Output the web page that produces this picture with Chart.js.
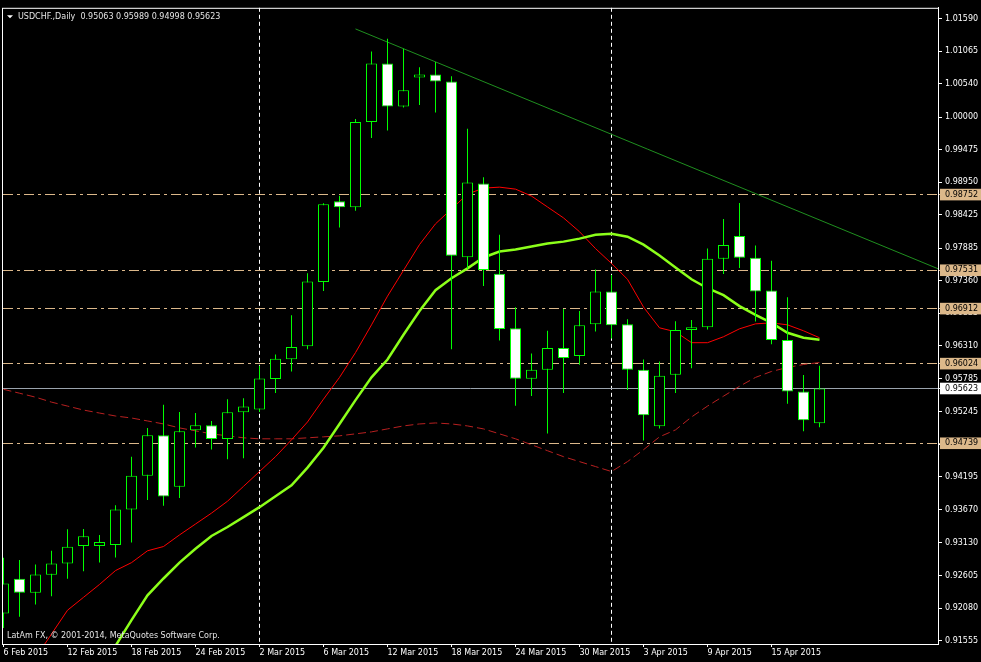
<!DOCTYPE html>
<html>
<head>
<meta charset="utf-8">
<title>USDCHF Daily</title>
<script src="https://cdn.jsdelivr.net/npm/chart.js@4.4.1/dist/chart.umd.min.js"></script>
<style>
html, body { margin: 0; padding: 0; background: #000; }
#wrap { width: 981px; height: 662px; position: relative; }
</style>
</head>
<body>
<div id="wrap"><canvas id="usdchf"></canvas></div>
<script>
// daily bars, 6 Feb 2015 .. 20 Apr 2015
const dates = ['6 Feb 2015', '9 Feb 2015', '10 Feb 2015', '11 Feb 2015', '12 Feb 2015', '13 Feb 2015',
  '16 Feb 2015', '17 Feb 2015', '18 Feb 2015', '19 Feb 2015', '20 Feb 2015', '23 Feb 2015', '24 Feb 2015',
  '25 Feb 2015', '26 Feb 2015', '27 Feb 2015', '2 Mar 2015', '3 Mar 2015', '4 Mar 2015', '5 Mar 2015',
  '6 Mar 2015', '9 Mar 2015', '10 Mar 2015', '11 Mar 2015', '12 Mar 2015', '13 Mar 2015', '16 Mar 2015',
  '17 Mar 2015', '18 Mar 2015', '19 Mar 2015', '20 Mar 2015', '23 Mar 2015', '24 Mar 2015', '25 Mar 2015',
  '26 Mar 2015', '27 Mar 2015', '30 Mar 2015', '31 Mar 2015', '1 Apr 2015', '2 Apr 2015', '3 Apr 2015',
  '6 Apr 2015', '7 Apr 2015', '8 Apr 2015', '9 Apr 2015', '10 Apr 2015', '13 Apr 2015', '14 Apr 2015',
  '15 Apr 2015', '16 Apr 2015', '17 Apr 2015', '20 Apr 2015'];

const opens = [0.91992, 0.92552, 0.92328, 0.92616, 0.92801, 0.93080, 0.93080, 0.93096, 0.93671, 0.94215,
  0.94870, 0.94039, 0.94950, 0.95030, 0.94806, 0.95238, 0.95286, 0.95775, 0.96095, 0.96303,
  0.97342, 0.98643, 0.98547, 0.99922, 1.00866, 1.00172, 1.00642, 1.00690, 1.00578, 0.97742,
  0.98931, 0.97476, 0.96597, 0.95782, 0.95925, 0.96277, 0.96149, 0.96661, 0.97189, 0.96661,
  0.95925, 0.95014, 0.95846, 0.96565, 0.96613, 0.97716, 0.98084, 0.97732, 0.97204, 0.96405,
  0.95574, 0.95063];
const highs = [0.92893, 0.92856, 0.92781, 0.93004, 0.93351, 0.93356, 0.93260, 0.93740, 0.94523, 0.94987,
  0.95359, 0.95243, 0.95227, 0.95099, 0.95451, 0.95467, 0.95989, 0.96170, 0.96805, 0.97481,
  0.98611, 0.98733, 0.99970, 1.01062, 1.01265, 1.01106, 1.00807, 1.00891, 1.00663, 0.99815,
  0.99032, 0.98105, 0.96933, 0.96186, 0.96554, 0.96906, 0.96874, 0.97545, 0.97454, 0.96741,
  0.96090, 0.96058, 0.96709, 0.96730, 0.97881, 0.98360, 0.98616, 0.97929, 0.97684, 0.97097,
  0.95839, 0.95989];
const lows = [0.91757, 0.91938, 0.92136, 0.92269, 0.92552, 0.92673, 0.92817, 0.92897, 0.93137, 0.93825,
  0.93729, 0.93857, 0.94672, 0.94640, 0.94480, 0.94496, 0.95243, 0.95551, 0.95898, 0.96255,
  0.97198, 0.98221, 0.98493, 0.99667, 0.99788, 1.00156, 1.00199, 1.00076, 0.96255, 0.97561,
  0.97278, 0.96399, 0.95343, 0.95503, 0.94896, 0.95551, 0.96005, 0.96543, 0.96431, 0.95599,
  0.94784, 0.94976, 0.95551, 0.95951, 0.96575, 0.97470, 0.97566, 0.96702, 0.96335, 0.95375,
  0.94934, 0.94998];
const closes = [0.92477, 0.92328, 0.92621, 0.92797, 0.93068, 0.93239, 0.93144, 0.93671, 0.94215, 0.94870,
  0.93879, 0.94934, 0.95030, 0.94806, 0.95238, 0.95334, 0.95786, 0.96101, 0.96293, 0.97348,
  0.98595, 0.98547, 0.99922, 1.00866, 1.00172, 1.00434, 1.00690, 1.00578, 0.97764, 0.98947,
  0.97534, 0.96581, 0.95782, 0.95925, 0.96277, 0.96117, 0.96645, 0.97189, 0.96645, 0.95925,
  0.95190, 0.95830, 0.96565, 0.96613, 0.97716, 0.97940, 0.97732, 0.97189, 0.96405, 0.95574,
  0.95110, 0.95623];

// moving averages
const maFast = [null, null, 0.91278, 0.91661, 0.92045, 0.92253, 0.92461, 0.92685, 0.92813, 0.93004,
  0.93073, 0.93260, 0.93436, 0.93612, 0.93804, 0.94044, 0.94283, 0.94523, 0.94795, 0.95083,
  0.95451, 0.95802, 0.96202, 0.96650, 0.97113, 0.97529, 0.97945, 0.98280, 0.98520, 0.98760,
  0.98856, 0.98872, 0.98840, 0.98728, 0.98552, 0.98376, 0.98153, 0.97881, 0.97641, 0.97385,
  0.96937, 0.96602, 0.96538, 0.96362, 0.96362, 0.96458, 0.96586, 0.96666, 0.96682, 0.96650,
  0.96554, 0.96442];
const maMid = [null, null, null, null, null, null, 0.91054, 0.91470, 0.91885, 0.92285,
  0.92557, 0.92813, 0.93036, 0.93244, 0.93388, 0.93548, 0.93708, 0.93884, 0.94060, 0.94347,
  0.94667, 0.95051, 0.95435, 0.95802, 0.96090, 0.96490, 0.96874, 0.97209, 0.97401, 0.97561,
  0.97737, 0.97833, 0.97865, 0.97913, 0.97961, 0.97993, 0.98041, 0.98105, 0.98121, 0.98073,
  0.97945, 0.97769, 0.97577, 0.97385, 0.97241, 0.97129, 0.96953, 0.96810, 0.96682, 0.96522,
  0.96442, 0.96410];
const maSlow = [0.95610, 0.95547, 0.95483, 0.95403, 0.95339, 0.95275, 0.95227, 0.95179, 0.95147, 0.95099,
  0.95051, 0.94987, 0.94939, 0.94891, 0.94859, 0.94827, 0.94811, 0.94811, 0.94811, 0.94827,
  0.94843, 0.94859, 0.94891, 0.94923, 0.94971, 0.95019, 0.95051, 0.95067, 0.95051, 0.95019,
  0.94971, 0.94891, 0.94811, 0.94715, 0.94619, 0.94523, 0.94443, 0.94363, 0.94283, 0.94443,
  0.94635, 0.94843, 0.94955, 0.95163, 0.95339, 0.95499, 0.95658, 0.95802, 0.95898, 0.95962,
  0.96010, 0.96042];

const trendX = [22, 60];
const trendY = [1.01425, 0.97386];

const levels = [0.98752, 0.97531, 0.96912, 0.96024, 0.94739];
const bidPrice = 0.95623;
const separators = [16, 38]; // 2 Mar, 1 Apr
const yTicks = [1.01590, 1.01065, 1.00540, 1.00000, 0.99475, 0.98950, 0.98425, 0.97885, 0.97360, 0.96835,
  0.96310, 0.95785, 0.95245, 0.94720, 0.94195, 0.93670, 0.93130, 0.92605, 0.92080, 0.91555];

const yMin = 0.91500, yMax = 1.01766;
const xMin = -0.03125, xMax = 58.40625;

const FONT = { family: 'DejaVu Sans', size: 8 };
const LIME = '#00ff00';
const TAN = '#dcb88a';

const title = 'USDCHF.,Daily  ' + [opens, highs, lows, closes].map(a => a[a.length - 1].toFixed(5)).join(' ');
const copyright = 'LatAm FX, \u00a9 2001-2014, MetaQuotes Software Corp.';

const mtFrame = {
  id: 'mtFrame',
  afterDraw(chart) {
    const { ctx, chartArea: a } = chart;
    ctx.save();
    ctx.strokeStyle = '#fff';
    ctx.lineWidth = 1;
    ctx.strokeRect(a.left - 0.5, a.top + 0.5, a.right - a.left + 1, a.bottom - a.top);
    ctx.fillStyle = '#fff';
    ctx.beginPath();
    ctx.moveTo(a.left + 4, a.top + 7.5);
    ctx.lineTo(a.left + 10, a.top + 7.5);
    ctx.lineTo(a.left + 7, a.top + 10.5);
    ctx.closePath();
    ctx.fill();
    ctx.font = FONT.size + 'px "' + FONT.family + '"';
    ctx.textBaseline = 'middle';
    ctx.fillStyle = '#e4e4e4';
    ctx.fillText(title, a.left + 15, a.top + 9);
    ctx.fillText(copyright, a.left + 4, a.bottom - 8);
    ctx.restore();
  }
};

function lineAxis(values, color, dash) {
  return {
    type: 'linear', position: 'right', min: yMin, max: yMax,
    afterBuildTicks: s => { s.ticks = values.map(v => ({ value: v })); },
    afterFit: s => { s.width = 0; },
    ticks: { display: false },
    grid: { drawTicks: false, color: color, lineWidth: 1 },
    border: { display: false, dash: dash }
  };
}

const idx = dates.map((d, i) => i);

new Chart(document.getElementById('usdchf'), {
  type: 'bar',
  data: {
    datasets: [
      {
        label: 'body',
        data: idx.map(i => ({ x: i, y: [opens[i], closes[i]] })),
        backgroundColor: idx.map(i => closes[i] >= opens[i] ? '#000' : '#fff'),
        borderColor: LIME, borderWidth: 1, borderSkipped: false, inflateAmount: 0,
        barThickness: 11, grouped: false, order: 1
      },
      {
        label: 'wick',
        data: idx.map(i => ({ x: i, y: [lows[i], highs[i]] })),
        backgroundColor: LIME, borderWidth: 0, inflateAmount: 0,
        barThickness: 1, grouped: false, order: 2
      },
      {
        type: 'line', label: 'MA mid',
        data: idx.map(i => ({ x: i, y: maMid[i] })),
        borderColor: '#8cff1a', borderWidth: 2.5, pointRadius: 0, order: 3
      },
      {
        type: 'line', label: 'MA fast',
        data: idx.map(i => ({ x: i, y: maFast[i] })),
        borderColor: '#ff0000', borderWidth: 1, pointRadius: 0, order: 4
      },
      {
        type: 'line', label: 'MA slow',
        data: idx.map(i => ({ x: i, y: maSlow[i] })),
        borderColor: '#b82020', borderWidth: 1, borderDash: [8, 4], pointRadius: 0, order: 5
      },
      {
        type: 'line', label: 'trend',
        data: trendX.map((x, i) => ({ x: x, y: trendY[i] })),
        borderColor: '#1f8f1f', borderWidth: 1, pointRadius: 0, order: 6
      }
    ]
  },
  options: {
    responsive: true,
    maintainAspectRatio: false,
    animation: false,
    devicePixelRatio: 1,
    layout: { padding: { left: 3, top: 2, right: 0, bottom: 0 }, autoPadding: false },
    plugins: { legend: { display: false }, tooltip: { enabled: false } },
    scales: {
      x: {
        type: 'linear', position: 'bottom', min: xMin, max: xMax, offset: false,
        afterBuildTicks: s => { s.ticks = idx.filter(i => i % 4 === 0).map(i => ({ value: i })); },
        afterFit: s => { s.height = 18; },
        grid: { drawOnChartArea: false, offset: false, tickLength: 3, color: '#fff' },
        border: { color: '#fff' },
        ticks: { autoSkip: false, maxRotation: 0, align: 'start', padding: 1, color: '#fff', font: FONT,
          callback: v => dates[v] }
      },
      xSep: {
        type: 'linear', position: 'bottom', min: xMin, max: xMax, offset: false,
        afterBuildTicks: s => { s.ticks = separators.map(v => ({ value: v })); },
        afterFit: s => { s.height = 0; },
        ticks: { display: false },
        grid: { drawTicks: false, offset: false, color: '#fff' },
        border: { display: false, dash: [4, 3] }
      },
      y: {
        type: 'linear', position: 'right', min: yMin, max: yMax,
        afterBuildTicks: s => { s.ticks = yTicks.concat(levels, [bidPrice]).map(v => ({ value: v })); },
        afterFit: s => { s.width = 43; },
        grid: {
          drawOnChartArea: false, tickLength: 4, color: '#fff',
          tickColor: c => levels.includes(c.tick.value) ? TAN : '#fff'
        },
        border: { color: '#fff' },
        ticks: {
          autoSkip: false, padding: 3, font: FONT,
          color: c => (levels.includes(c.tick.value) || c.tick.value === bidPrice) ? '#000' : '#fff',
          showLabelBackdrop: true,
          backdropColor: c => levels.includes(c.tick.value) ? TAN : (c.tick.value === bidPrice ? '#fff' : 'rgba(0,0,0,0)'),
          backdropPadding: { left: 5, right: 8, top: 1, bottom: 1 },
          callback: v => v.toFixed(5)
        }
      },
      yLevels: lineAxis(levels, TAN, [10, 4, 3, 4]),
      yBid: lineAxis([bidPrice], '#9aa3ad', [])
    }
  },
  plugins: [mtFrame]
});
</script>
</body>
</html>
